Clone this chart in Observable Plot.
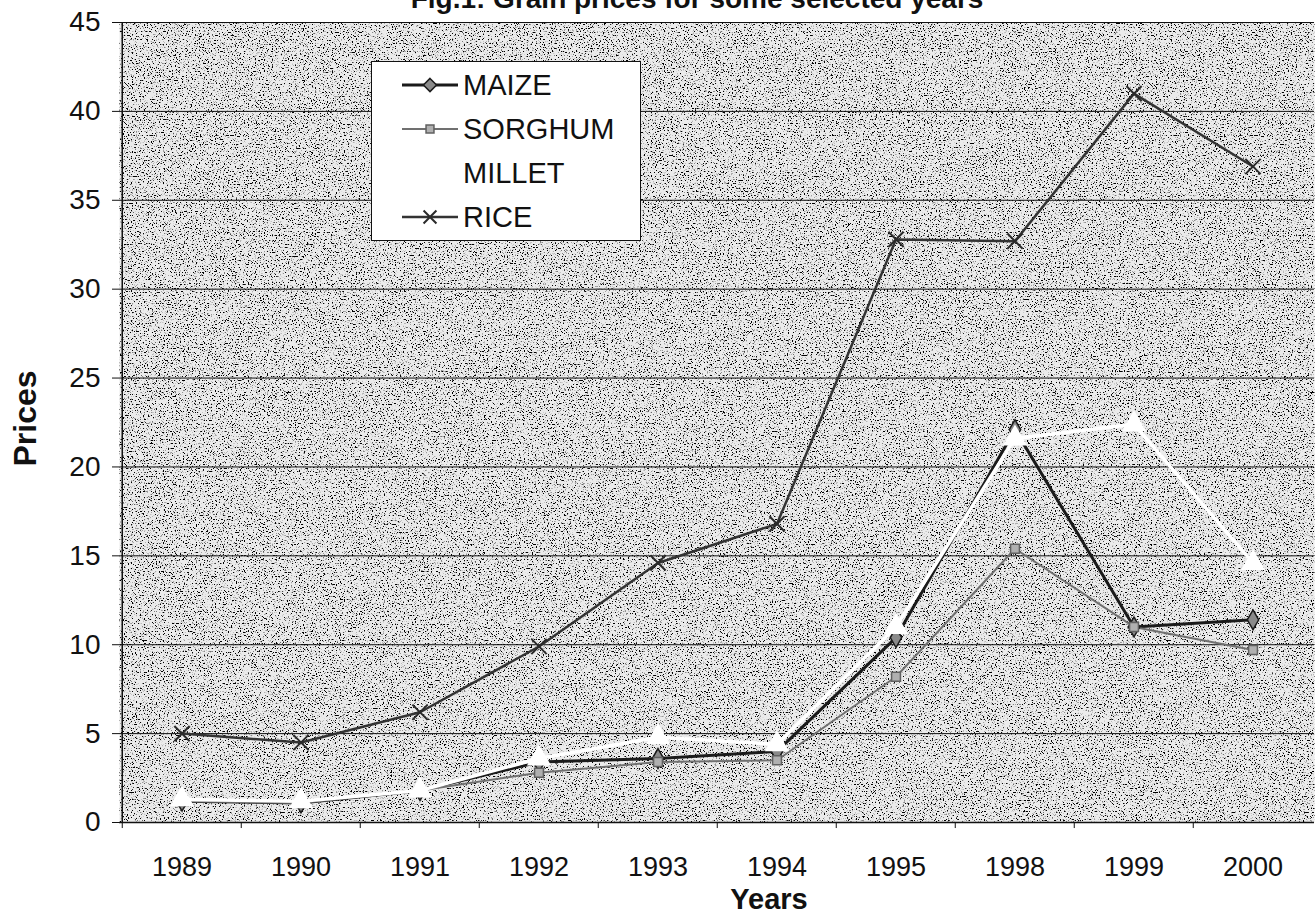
<!DOCTYPE html>
<html>
<head>
<meta charset="utf-8">
<script src="https://cdn.jsdelivr.net/npm/d3@7"></script>
<script src="https://cdn.jsdelivr.net/npm/@observablehq/plot@0.6"></script>
<style>
  html, body { margin: 0; padding: 0; background: #fff; overflow: hidden; }
  #wrap { position: relative; width: 1315px; height: 914px; font-family: "Liberation Sans", Arial, sans-serif; }
  #title { position: absolute; top: -15px; left: 697px; transform: translateX(-50%); white-space: nowrap;
           font-weight: bold; font-size: 28px; line-height: 27px; color: #111; z-index: 2; }
  #legend { position: absolute; left: 371px; top: 61px; width: 270px; height: 180px; background: #fff;
            border: 1px solid #111; box-sizing: border-box; padding-top: 1px; z-index: 2; }
  .row { height: 44px; display: flex; align-items: center; font-size: 29px; color: #111; }
  .row svg { margin-left: 30px; margin-right: 5px; }
</style>
</head>
<body>
<div id="wrap">
  <div id="title"></div>
  <div id="chart"></div>
  <div id="legend"></div>
</div>
<script>
const titleText = "Fig.1: Grain prices for some selected years";
const years = ["1989","1990","1991","1992","1993","1994","1995","1998","1999","2000"];
const maize   = [1.2, 1.1, 1.8, 3.4, 3.6, 4.0, 10.4, 22.1, 11.0, 11.4];
const sorghum = [1.2, 1.1, 1.8, 2.8, 3.4, 3.5, 8.2, 15.4, 11.0, 9.7];
const millet  = [1.3, 1.2, 1.8, 3.6, 4.8, 4.4, 11.0, 21.6, 22.4, 14.6];
const rice    = [5.0, 4.5, 6.2, 9.9, 14.6, 16.8, 32.8, 32.7, 41.0, 36.9];
const yTicks  = [0, 5, 10, 15, 20, 25, 30, 35, 40, 45];
const seriesNames = ["MAIZE", "SORGHUM", "MILLET", "RICE"];

const styles = {
  MAIZE:   {stroke: "#1a1a1a", width: 3,   symbol: "diamond", fill: "#8a8a8a", mstroke: "#1a1a1a", r: 6},
  SORGHUM: {stroke: "#707070", width: 2,   symbol: "square",  fill: "#b0b0b0", mstroke: "#606060", r: 5},
  MILLET:  {stroke: "#ffffff", width: 3.5, symbol: "triangle", fill: "#ffffff", mstroke: "#ffffff", r: 8},
  RICE:    {stroke: "#333333", width: 2.5, symbol: "times",   fill: "none",    mstroke: "#2a2a2a", r: 7}
};
const valuesBy = {MAIZE: maize, SORGHUM: sorghum, MILLET: millet, RICE: rice};
const tables = Object.fromEntries(seriesNames.map(n => [n, years.map((yr, i) => ({year: yr, value: valuesBy[n][i], series: n}))]));

const W = 1315, H = 914, mL = 119, mR = 1, mT = 22, mB = 92;
const bw = (W - mL - mR) / years.length;

const lineMarks = seriesNames.map(n => Plot.line(tables[n], {x: "year", y: "value", stroke: styles[n].stroke, strokeWidth: styles[n].width}));
const dotMarks = seriesNames.map(n => Plot.dot(tables[n], {x: "year", y: "value", symbol: () => styles[n].symbol, r: styles[n].r,
  fill: styles[n].fill, stroke: styles[n].mstroke, strokeWidth: n === "RICE" ? 2 : 1.5}));

const chart = Plot.plot({
  width: W, height: H, marginTop: mT, marginBottom: mB, marginLeft: mL, marginRight: mR,
  style: {fontFamily: "'Liberation Sans', Arial, sans-serif", background: "transparent", color: "#111", overflow: "visible"},
  x: {type: "band", domain: years, padding: 0, label: null},
  y: {domain: [0, 45], label: null},
  symbol: {type: "identity"},
  marks: [
    Plot.frame({fill: "#dcdcdc"}),
    Plot.gridY(yTicks, {stroke: "#111", strokeOpacity: 1, strokeWidth: 1}),
    Plot.axisY(yTicks, {tickSize: 7, tickPadding: 12, fontSize: 28, label: null, stroke: "#111"}),
    Plot.axisX({tickSize: 0, tickPadding: 34, fontSize: 27, label: null}),
    Plot.ruleX(years, {x: d => d, y1: 0, y2: -0.34, dx: -bw / 2, stroke: "#111"}),
    Plot.ruleX([years[0]], {y1: 0, y2: 45, dx: -bw / 2, stroke: "#111", strokeWidth: 1.5}),
    Plot.ruleY([0], {stroke: "#111", strokeWidth: 1.5}),
    ...lineMarks,
    ...dotMarks,
    Plot.text(["Years"], {frameAnchor: "bottom", lineAnchor: "top", dy: 66, dx: 52, fontSize: 29, fontWeight: "bold"}),
    Plot.text(["Prices"], {frameAnchor: "left", textAnchor: "middle", rotate: -90, dx: -94, dy: -4, fontSize: 32, fontWeight: "bold"})
  ]
});
document.getElementById("chart").appendChild(chart);
document.getElementById("title").textContent = titleText;

// speckled background texture on the plot frame
const svg = d3.select(chart);
const defs = svg.insert("defs", ":first-child");
const f = defs.append("filter").attr("id", "speckle").attr("x", 0).attr("y", 0).attr("width", "100%").attr("height", "100%");
f.append("feTurbulence").attr("type", "fractalNoise").attr("baseFrequency", 0.75).attr("numOctaves", 2).attr("seed", 7).attr("result", "t");
f.append("feColorMatrix").attr("in", "t").attr("type", "matrix")
  .attr("values", "0 0 0 0 0  0 0 0 0 0  0 0 0 0 0  -9 0 0 0 3.95").attr("result", "sp");
f.append("feFlood").attr("flood-color", "#ebebeb").attr("result", "bg");
f.append("feComposite").attr("in", "sp").attr("in2", "bg").attr("operator", "over").attr("result", "c");
f.append("feComposite").attr("in", "c").attr("in2", "SourceGraphic").attr("operator", "in");
svg.selectAll('[aria-label="frame"]').attr("filter", "url(#speckle)");

// legend
const leg = d3.select("#legend");
const symPath = {
  diamond: d3.symbol(d3.symbolDiamond2, 110)(),
  square: d3.symbol(d3.symbolSquare2, 80)(),
  triangle: d3.symbol(d3.symbolTriangle2, 110)(),
  times: d3.symbol(d3.symbolTimes, 110)()
};
seriesNames.forEach(n => {
  const s = styles[n];
  const row = leg.append("div").attr("class", "row");
  const sv = row.append("svg").attr("width", 56).attr("height", 24);
  sv.append("line").attr("x1", 0).attr("x2", 56).attr("y1", 12).attr("y2", 12).attr("stroke", s.stroke).attr("stroke-width", s.width);
  sv.append("path").attr("d", symPath[s.symbol]).attr("transform", "translate(28,12)")
    .attr("fill", s.fill).attr("stroke", s.mstroke).attr("stroke-width", n === "RICE" ? 2 : 1.5);
  row.append("span").text(n);
});
</script>
</body>
</html>
